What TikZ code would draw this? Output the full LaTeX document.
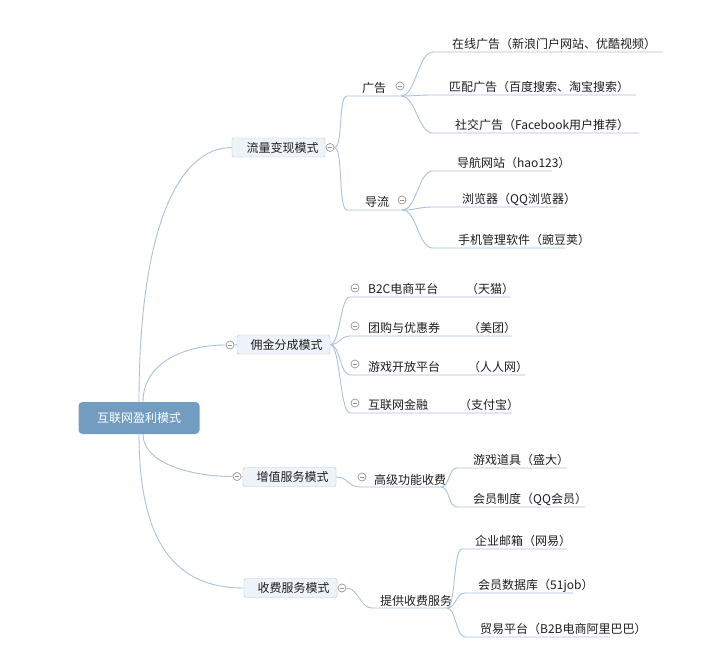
\documentclass[tikz,border=0pt]{standalone}
\usepackage{fontspec}
\setmainfont{Noto Sans CJK SC}
\definecolor{lineblue}{RGB}{168,195,218}
\definecolor{boxfill}{RGB}{237,243,249}
\definecolor{boxborder}{RGB}{178,198,218}
\definecolor{rootblue}{RGB}{114,157,192}
\definecolor{minusgray}{RGB}{150,150,150}
\definecolor{txtcol}{RGB}{30,30,30}
\newcommand\mmfs{\fontsize{12}{14}\selectfont}
\begin{document}
\begin{tikzpicture}[x=1pt,y=-1pt,
  conn/.style={draw=lineblue, line width=0.9pt},
  rootbox/.style={fill=rootblue, rounded corners=4pt, minimum width=121pt, minimum height=32pt, inner sep=0pt, text=white, font=\mmfs},
  lone/.style={draw=boxborder, fill=boxfill, rounded corners=1.5pt, minimum width=93pt, minimum height=19pt, inner sep=0pt, text=txtcol, font=\mmfs},
  txt/.style={inner sep=0pt, anchor=base west, text=txtcol, font=\mmfs},
  minus/.style={circle, draw=minusgray, line width=0.7pt, minimum size=8pt, inner sep=0pt,
    path picture={\draw[minusgray, line width=0.7pt] ([xshift=-2.2pt]path picture bounding box.center) -- ([xshift=2.2pt]path picture bounding box.center);}}
]
\fill[white] (0,0) rectangle (718,661);
\useasboundingbox (0,0) rectangle (718,661);

% root
\node[rootbox] (root) at (139,418) {互联网盈利模式};
\coordinate (r1) at (139,402);
\coordinate (r2) at (143,402);
\coordinate (r3) at (143,434);
\coordinate (r4) at (139,434);

% level 1
\node[lone] (A) at (278.5,147.5) {\hspace*{8pt}流量变现模式};
\node[minus] (cA) at (330,147.5) {};
\node[lone] (B) at (283.5,344.5) {\hspace*{6pt}佣金分成模式};
\node[minus] (cB) at (230,345) {};
\node[lone] (C) at (289.5,477) {\hspace*{6pt}增值服务模式};
\node[minus] (cC) at (237,476.5) {};
\node[lone] (D) at (290.5,588) {\hspace*{6pt}收费服务模式};
\node[minus] (cD) at (342,588) {};

\draw[conn] (r1) .. controls +(0,-170) and +(-55,0) .. (A.west);
\draw[conn] (r2) .. controls +(0,-40) and +(-40,0) .. (cB.west);
\draw[conn] (r3) .. controls +(0,30) and +(-40,0) .. (cC.west);
\draw[conn] (r4) .. controls +(0,120) and +(-60,0) .. (D.west);
\draw[conn] (A.east) -- (cA.west);
\draw[conn] (cB.east) -- (B.west);
\draw[conn] (cC.east) -- (C.west);
\draw[conn] (D.east) -- (cD.west);

% ---- 流量变现模式 ----
\coordinate (g1s) at (347,96);
\coordinate (g1e) at (401,96);
\node[txt] (g1) at (362,92.5) {广告};
\node[minus] (m1) at (400,86) {};
\draw[conn] (cA.east) .. controls +(9,0) and +(-9,0) .. (g1s) -- (g1e);

\coordinate (g2s) at (347,210);
\coordinate (g2e) at (402,210);
\node[txt] (g2) at (365,206.5) {导流};
\node[minus] (m2) at (402,200) {};
\draw[conn] (cA.east) .. controls +(9,0) and +(-9,0) .. (g2s) -- (g2e);

\coordinate (a1s) at (433,52);  \coordinate (a1e) at (663,52);
\coordinate (a2s) at (433,95);  \coordinate (a2e) at (636,95);
\coordinate (a3s) at (433,133); \coordinate (a3e) at (639,133);
\node[txt] (a1) at (452,48.5) {在线广告（新浪门户网站、优酷视频）};
\node[txt] (a2) at (449,91.5) {匹配广告（百度搜索、淘宝搜索）};
\node[txt] (a3) at (455,129.5) {社交广告（Facebook用户推荐）};
\draw[conn] (g1e) .. controls +(15,0) and +(-15,0) .. (a1s) -- (a1e);
\draw[conn] (g1e) .. controls +(15,0) and +(-15,0) .. (a2s) -- (a2e);
\draw[conn] (g1e) .. controls +(15,0) and +(-15,0) .. (a3s) -- (a3e);

\coordinate (b1s) at (433,171); \coordinate (b1e) at (552,171);
\coordinate (b2s) at (433,207); \coordinate (b2e) at (557,207);
\coordinate (b3s) at (433,248); \coordinate (b3e) at (565,248);
\node[txt] (b1) at (457,167.5) {导航网站（hao123）};
\node[txt] (b2) at (462,203.5) {浏览器（QQ浏览器）};
\node[txt] (b3) at (458,244.5) {手机管理软件（豌豆荚）};
\draw[conn] (g2e) .. controls +(15,0) and +(-15,0) .. (b1s) -- (b1e);
\draw[conn] (g2e) .. controls +(15,0) and +(-15,0) .. (b2s) -- (b2e);
\draw[conn] (g2e) .. controls +(15,0) and +(-15,0) .. (b3s) -- (b3e);

% ---- 佣金分成模式 ----
\coordinate (p1s) at (350,297); \coordinate (p1e) at (510,297);
\coordinate (p2s) at (350,336); \coordinate (p2e) at (512,336);
\coordinate (p3s) at (350,375); \coordinate (p3e) at (525,375);
\coordinate (p4s) at (350,413); \coordinate (p4e) at (512,413);
\node[minus] (n1) at (355,288) {};
\node[minus] (n2) at (355,326) {};
\node[minus] (n3) at (355,364) {};
\node[minus] (n4) at (355,403) {};
\node[txt] (p1) at (368,293.5) {B2C电商平台};
\node[txt] (p1b) at (466,293.5) {（天猫）};
\node[txt] (p2) at (368,332.5) {团购与优惠券};
\node[txt] (p2b) at (468,332.5) {（美团）};
\node[txt] (p3) at (368,371.5) {游戏开放平台};
\node[txt] (p3b) at (468,371.5) {（人人网）};
\node[txt] (p4) at (368,409.5) {互联网金融};
\node[txt] (p4b) at (459,409.5) {（支付宝）};
\draw[conn] (B.east) .. controls +(10,0) and +(-10,0) .. (p1s) -- (p1e);
\draw[conn] (B.east) .. controls +(10,0) and +(-10,0) .. (p2s) -- (p2e);
\draw[conn] (B.east) .. controls +(10,0) and +(-10,0) .. (p3s) -- (p3e);
\draw[conn] (B.east) .. controls +(10,0) and +(-10,0) .. (p4s) -- (p4e);

% ---- 增值服务模式 ----
\coordinate (hs) at (360,487); \coordinate (he) at (441,487);
\node[minus] (m3) at (362,477) {};
\node[txt] (h) at (374,484) {高级功能收费};
\draw[conn] (C.east) .. controls +(12,0) and +(-12,0) .. (hs) -- (he);
\coordinate (k1s) at (457,468); \coordinate (k1e) at (567,468);
\coordinate (k2s) at (457,507); \coordinate (k2e) at (585,507);
\node[txt] (k1) at (473,464.5) {游戏道具（盛大）};
\node[txt] (k2) at (473,503.5) {会员制度（QQ会员）};
\draw[conn] (he) .. controls +(9,0) and +(-9,0) .. (k1s) -- (k1e);
\draw[conn] (he) .. controls +(9,0) and +(-9,0) .. (k2s) -- (k2e);

% ---- 收费服务模式 ----
\coordinate (ts) at (372,608); \coordinate (te) at (447,608);
\node[txt] (t) at (380,605) {提供收费服务};
\draw[conn] (cD.east) .. controls +(12,0) and +(-12,0) .. (ts) -- (te);
\coordinate (q1s) at (462,549); \coordinate (q1e) at (567,549);
\coordinate (q2s) at (465,593); \coordinate (q2e) at (573,593);
\coordinate (q3s) at (465,637); \coordinate (q3e) at (610,637);
\node[txt] (q1) at (475,545.5) {企业邮箱（网易）};
\node[txt] (q2) at (478,589.5) {会员数据库（51job）};
\node[txt] (q3) at (480,633.5) {贸易平台（B2B电商阿里巴巴）};
\draw[conn] (te) .. controls +(9,0) and +(-9,0) .. (q1s) -- (q1e);
\draw[conn] (te) .. controls +(9,0) and +(-9,0) .. (q2s) -- (q2e);
\draw[conn] (te) .. controls +(9,0) and +(-9,0) .. (q3s) -- (q3e);
\end{tikzpicture}
\end{document}
